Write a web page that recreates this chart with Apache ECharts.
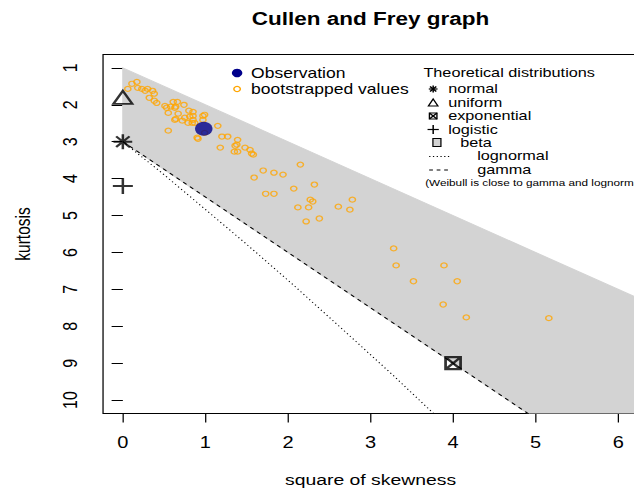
<!DOCTYPE html>
<html>
<head>
<meta charset="utf-8">
<script src="https://cdn.jsdelivr.net/npm/echarts@6/dist/echarts.min.js"></script>
<style>
html,body{margin:0;padding:0;background:#fff;overflow:hidden;width:634px;height:492px;}
#wrap{position:absolute;left:0;top:0;width:507px;height:492px;transform-origin:0 0;transform:scaleX(1.2505);}
#chart{width:507px;height:492px;}
</style>
</head>
<body>
<div id="wrap"><div id="chart"></div></div>
<script>
// ---- data ----
var xTicks = [0, 1, 2, 3, 4, 5, 6];
var yTicks = [1, 2, 3, 4, 5, 6, 7, 8, 9, 10];

var bootSkew2 = [0.11,0.06,0.17,0.18,0.23,0.27,0.30,0.36,0.38,0.32,0.38,0.41,0.51,0.53,0.61,0.66,0.64,0.74,0.55,0.58,
  0.63,0.67,0.63,0.72,0.75,0.81,0.85,0.79,0.84,0.55,0.64,0.80,0.85,0.97,0.99,0.87,0.85,0.97,1.15,0.90,
  0.91,1.20,1.27,1.18,1.39,1.36,1.38,1.35,1.39,1.48,1.54,1.58,1.56,1.70,1.83,1.59,2.15,1.94,2.07,2.32,
  1.73,1.83,2.27,2.30,2.12,2.25,2.22,2.38,2.78,2.61,2.75,3.28,3.31,3.89,3.52,4.05,3.88,4.16,5.16,0.99];
var bootKurt = [1.43,1.57,1.38,1.54,1.57,1.62,1.57,1.62,1.70,1.81,1.89,1.95,2.03,2.08,1.92,1.92,2.05,2.00,2.22,2.05,
  2.08,2.24,2.41,2.43,2.35,2.32,2.19,2.49,2.49,2.70,2.38,2.16,2.30,2.30,2.27,2.49,2.41,2.41,2.57,2.89,
  2.92,2.86,2.86,3.16,2.95,3.11,3.08,3.27,3.27,3.16,3.22,3.35,3.32,3.78,3.84,3.97,3.62,3.89,4.27,4.16,
  4.41,4.41,4.57,4.62,4.78,4.78,5.16,5.08,4.57,4.76,4.84,5.89,6.35,6.35,6.78,6.78,7.41,7.76,7.78,2.76];
var observation = [0.98, 2.65];

var normalPt = [0, 3];
var uniformPt = [0, 1.8];
var exponentialPt = [4, 9];
var logisticPt = [0, 4.2];

var betaRegion = [[0, 1], [7, 8], [7, 13.5], [0, 3]];
var gammaLine = [[0, 3], [6, 12]];
var lognormalLine = [[0, 3], [0.47, 3.84], [0.96, 4.76], [1.49, 5.76], [2.05, 6.85], [2.64, 8.04], [3.27, 9.32], [3.79, 10.42]];

// ---- chart ----
var FONT = 'Liberation Sans, Arial, Helvetica, sans-serif';
var bootData = bootSkew2.map(function (v, i) { return [v, bootKurt[i]]; });

var asteriskPath = 'path://M8,0L8,16M0,8L16,8M2.3,2.3L13.7,13.7M2.3,13.7L13.7,2.3';
var plusPath = 'path://M8,0L8,16M0,8L16,8';
var boxXPath = 'path://M0,0L12,0L12,12L0,12ZM0,0L12,12M0,12L12,0';

function lineEl(x1, y1, x2, y2, w, dash) {
  return { type: 'line', shape: { x1: x1, y1: y1, x2: x2, y2: y2 },
    style: { stroke: '#000', lineWidth: w || 1, lineDash: dash || null }, silent: true };
}
function textEl(x, y, t, size, weight, align) {
  return { type: 'text', x: x, y: y, silent: true,
    style: { text: t, fill: '#000', fontSize: size || 14, fontWeight: weight || 'normal', fontFamily: FONT,
      lineHeight: size || 14, verticalAlign: 'middle', align: align || 'left' } };
}
var LX = 346.4; // legend symbol column
var legendEls = [
  // title
  textEl(296.3, 18.5, 'Cullen and Frey graph', 18, 'bold', 'center'),
  // left legend
  { type: 'circle', shape: { cx: 189.6, cy: 73, r: 4.2 }, style: { fill: '#00008B' }, silent: true },
  { type: 'circle', shape: { cx: 189.6, cy: 89, r: 2.6 }, style: { fill: 'none', stroke: '#FFA500', lineWidth: 1.2 }, silent: true },
  textEl(200.8, 73, 'Observation', 14),
  textEl(200.8, 89, 'bootstrapped values', 14),
  // right legend
  textEl(338.6, 72.5, 'Theoretical distributions', 13),
  lineEl(LX, 85.5, LX, 92.5, 1.2), lineEl(LX - 3.5, 89, LX + 3.5, 89, 1.2),
  lineEl(LX - 2.5, 86.5, LX + 2.5, 91.5, 1.2), lineEl(LX - 2.5, 91.5, LX + 2.5, 86.5, 1.2),
  { type: 'polygon', shape: { points: [[LX, 99], [LX + 3.8, 106], [LX - 3.8, 106]] }, style: { fill: 'none', stroke: '#000', lineWidth: 1.1 }, silent: true },
  { type: 'rect', shape: { x: LX - 3, y: 113, width: 6, height: 6 }, style: { fill: 'none', stroke: '#000', lineWidth: 1.1 }, silent: true },
  lineEl(LX - 3, 113, LX + 3, 119, 1.1), lineEl(LX - 3, 119, LX + 3, 113, 1.1),
  lineEl(LX, 125, LX, 134, 1.2), lineEl(LX - 4.5, 129.5, LX + 4.5, 129.5, 1.2),
  { type: 'rect', shape: { x: 346.2, y: 138.5, width: 6.4, height: 8 }, style: { fill: '#D3D3D3', stroke: '#000', lineWidth: 1 }, silent: true },
  textEl(358.4, 89, 'normal', 13),
  textEl(358.4, 102.5, 'uniform', 13),
  textEl(358.4, 116, 'exponential', 13),
  textEl(358.4, 129.5, 'logistic', 13),
  textEl(368, 142.5, 'beta', 13),
  lineEl(343.2, 156.5, 360, 156.5, 1, [1, 2]),
  textEl(381.6, 156, 'lognormal', 13),
  lineEl(343.2, 170, 360, 170, 1, [3, 3]),
  textEl(381.6, 169.5, 'gamma', 13),
  textEl(340, 182.5, '(Weibull is close to gamma and lognormal)', 9.4)
];

var chart = echarts.init(document.getElementById('chart'), null, { renderer: 'svg' });
chart.setOption({
  animation: false,
  backgroundColor: '#fff',
  grid: { left: 82.4, right: -3.2, top: 54.6, bottom: 78.6, show: true, borderColor: '#000', borderWidth: 1, backgroundColor: 'transparent', outerBoundsMode: 'none' },
  xAxis: {
    type: 'value', min: -0.24, max: 6.24,
    name: 'square of skewness', nameLocation: 'middle', nameGap: 58,
    nameTextStyle: { fontSize: 15.5, fontFamily: FONT, color: '#000' },
    axisLine: { show: false },
    axisTick: { show: true, length: 9, customValues: xTicks, lineStyle: { color: '#000' } },
    axisLabel: { customValues: xTicks, fontSize: 16, fontFamily: FONT, color: '#000', margin: 21 },
    splitLine: { show: false }
  },
  yAxis: {
    type: 'value', inverse: true, min: 0.64, max: 10.36,
    name: 'kurtosis', nameLocation: 'middle', nameGap: 56, nameRotate: 90,
    nameTextStyle: { fontSize: 15.5, fontFamily: FONT, color: '#000' },
    axisLine: { show: false },
    axisTick: { show: true, length: 9, customValues: yTicks, lineStyle: { color: '#000' } },
    axisLabel: { customValues: yTicks, rotate: 90, fontSize: 16, fontFamily: FONT, color: '#000', margin: 18 },
    splitLine: { show: false }
  },
  graphic: legendEls,
  series: [
    {
      type: 'custom', clip: true, silent: true, z: 1,
      data: [betaRegion[0]],
      renderItem: function (params, api) {
        var pts = betaRegion.map(function (p) { return api.coord(p); });
        return { type: 'polygon', shape: { points: pts }, style: { fill: '#D3D3D3', stroke: '#D3D3D3' } };
      }
    },
    {
      type: 'line', data: gammaLine, showSymbol: false, symbol: 'none', clip: true, z: 2, silent: true,
      lineStyle: { color: '#000', width: 1, type: [3.5, 3.5] }
    },
    {
      type: 'line', data: lognormalLine, showSymbol: false, symbol: 'none', clip: true, z: 2, silent: true,
      lineStyle: { color: '#000', width: 1, type: [1, 2.5] }
    },
    {
      type: 'scatter', data: bootData, symbol: 'circle', symbolSize: 5, z: 3, silent: true,
      itemStyle: { color: 'rgba(0,0,0,0)', borderColor: '#FFA500', borderWidth: 1.2 }
    },
    {
      type: 'scatter', data: [observation], symbol: 'circle', symbolSize: 14, z: 4, silent: true,
      itemStyle: { color: '#00008B' }
    },
    {
      type: 'scatter', data: [uniformPt], symbol: 'triangle', symbolSize: [15, 13], z: 4, silent: true,
      itemStyle: { color: 'rgba(0,0,0,0)', borderColor: '#000', borderWidth: 2 }
    },
    {
      type: 'scatter', data: [normalPt], symbol: asteriskPath, symbolSize: 15, z: 4, silent: true,
      itemStyle: { color: 'rgba(0,0,0,0)', borderColor: '#000', borderWidth: 2 }
    },
    {
      type: 'scatter', data: [logisticPt], symbol: plusPath, symbolSize: 16, z: 4, silent: true,
      itemStyle: { color: 'rgba(0,0,0,0)', borderColor: '#000', borderWidth: 2 }
    },
    {
      type: 'scatter', data: [exponentialPt], symbol: boxXPath, symbolSize: 12, z: 4, silent: true,
      itemStyle: { color: 'rgba(0,0,0,0)', borderColor: '#000', borderWidth: 2.2 }
    }
  ]
});
</script>
</body>
</html>
